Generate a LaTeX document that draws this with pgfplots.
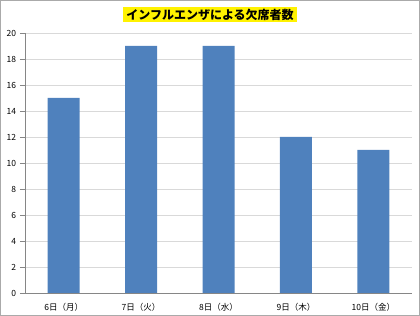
\documentclass[border=0pt]{standalone}
\usepackage{pgfplots}
\pgfplotsset{compat=1.18}
\usepackage{fontspec}
\setmainfont{Noto Sans CJK JP}
\setsansfont{Noto Sans CJK JP}
\definecolor{barblue}{HTML}{4F81BD}
\definecolor{gridgray}{HTML}{D9D9D9}
\definecolor{axgray}{HTML}{868686}
\begin{document}
\begin{tikzpicture}[x=1bp,y=1bp]
\path[use as bounding box] (0,0) rectangle (420,316);
\draw[axgray!70,line width=0.6bp] (0.5,0.5) rectangle (419.5,315.5);
\begin{axis}[
  at={(25bp,23bp)}, anchor=south west,
  scale only axis, width=387bp, height=260bp,
  xmin=-0.5, xmax=4.5, ymin=0, ymax=20,
  ytick={0,2,...,20},
  xtick={0,1,2,3,4},
  xticklabels={6日（月）,7日（火）,8日（水）,9日（木）,10日（金）},
  extra x ticks={-0.5,0.5,1.5,2.5,3.5,4.5},
  extra x tick labels={},
  extra x tick style={major tick length=5bp, tick style={axgray}, grid=none},
  major x tick style={draw=none},
  tick align=outside,
  major tick length=5bp,
  y tick style={axgray},
  ymajorgrids, grid style={gridgray, line width=0.6bp},
  axis x line*=bottom, axis y line*=left,
  axis line style={axgray, line width=0.6bp, -},
  tick label style={font=\fontsize{8.5bp}{10bp}\selectfont},
  /pgf/number format/assume math mode=true,
  yticklabel style={xshift=-0.5bp},
  xticklabel style={yshift=-2bp},
  ybar, bar width=32bp,
]
\addplot[fill=barblue, draw=none] coordinates {(0,15) (1,19) (2,19) (3,12) (4,11)};
\end{axis}
\node[fill=yellow, inner xsep=3bp, inner ysep=1.5bp, font=\bfseries\fontsize{12bp}{14bp}\selectfont] at (210,301.5) {インフルエンザによる欠席者数};
\end{tikzpicture}
\end{document}
